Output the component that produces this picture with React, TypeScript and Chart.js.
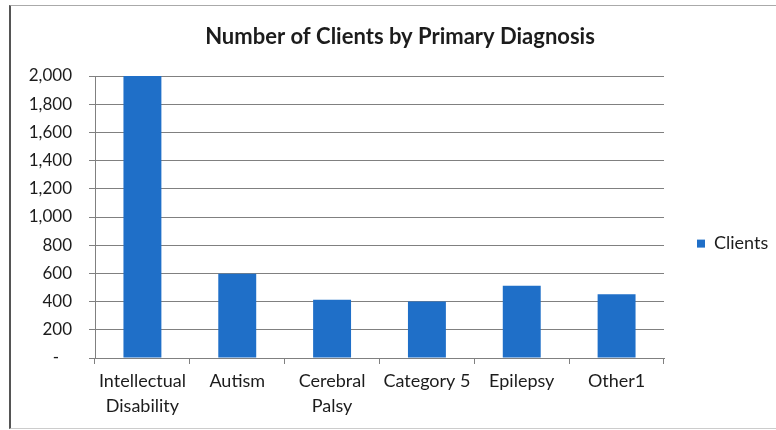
import React, { useEffect, useRef } from "react";
import { Chart, registerables } from "chart.js";

Chart.register(...registerables);

const categories: (string | string[])[] = [
  ["Intellectual", "Disability"],
  "Autism",
  ["Cerebral", "Palsy"],
  "Category 5",
  "Epilepsy",
  "Other1",
];
const clients: number[] = [2000, 598, 414, 400, 512, 453];
const seriesName = "Clients";
const chartTitle = "Number of Clients by Primary Diagnosis";
const yMin = 0;
const yMax = 2000;
const yStep = 200;

const FONT = "Lato, 'Open Sans', sans-serif";
const TEXT = "#1c1c1c";
const GRID = "#808080";
const BAR = "#1F6FC8";

export default function App() {
  const ref = useRef<HTMLCanvasElement | null>(null);

  useEffect(() => {
    if (!ref.current) return;
    const chart = new Chart(ref.current, {
      type: "bar",
      data: {
        labels: categories,
        datasets: [
          {
            label: seriesName,
            data: clients,
            backgroundColor: BAR,
            borderWidth: 0,
            barPercentage: 0.4,
            categoryPercentage: 1,
          },
        ],
      },
      options: {
        animation: false,
        responsive: false,
        devicePixelRatio: 1,
        layout: { padding: { left: 24, right: 0, top: 0, bottom: 0 } },
        plugins: {
          title: {
            display: true,
            text: chartTitle,
            color: TEXT,
            font: { family: FONT, size: 22, weight: "bold", lineHeight: 1.2 },
            padding: { top: 24, bottom: 25.6 },
          },
          legend: {
            display: true,
            position: "right",
            align: "center",
            maxWidth: 112,
            title: { display: true, text: "", padding: { top: 56, bottom: 0 }, font: { size: 1 } },
            labels: {
              boxWidth: 8,
              boxHeight: 8,
              padding: 33,
              color: TEXT,
              font: { family: FONT, size: 18 },
            },
          },
          tooltip: { enabled: false },
        },
        scales: {
          x: {
            grid: {
              display: true,
              drawOnChartArea: false,
              drawTicks: true,
              tickLength: 6,
              color: GRID,
              offset: true,
            },
            border: { display: true, color: GRID },
            ticks: {
              color: TEXT,
              font: { family: FONT, size: 18, lineHeight: 1.38 },
              padding: 5,
              maxRotation: 0,
              autoSkip: false,
            },
            afterFit: (scale: any) => {
              scale.height = 72;
            },
          },
          y: {
            min: yMin,
            max: yMax,
            grid: {
              color: GRID,
              tickLength: 6,
            },
            border: { display: true, color: GRID },
            ticks: {
              stepSize: yStep,
              color: TEXT,
              padding: 17,
              font: { family: FONT, size: 17 },
              callback: (v: any) => (Number(v) === 0 ? "-   " : Number(v).toLocaleString("en-US")),
            },
            afterFit: (scale: any) => {
              scale.width = 71;
            },
          },
        },
      },
    });
    return () => chart.destroy();
  }, []);

  return (
    <div style={{ position: "fixed", left: 0, top: 0, width: 776, height: 430, background: "#fff", overflow: "hidden" }}>
      <canvas ref={ref} width={776} height={430} style={{ position: "absolute", left: 0, top: 0, width: 776, height: 430 }} />
      <div
        style={{
          position: "absolute",
          left: 9,
          top: 5,
          width: 800,
          height: 422,
          borderLeft: "2px solid #555",
          borderTop: "1px solid #aaa",
          borderBottom: "1px solid #ccc",
          pointerEvents: "none",
        }}
      />
    </div>
  );
}
